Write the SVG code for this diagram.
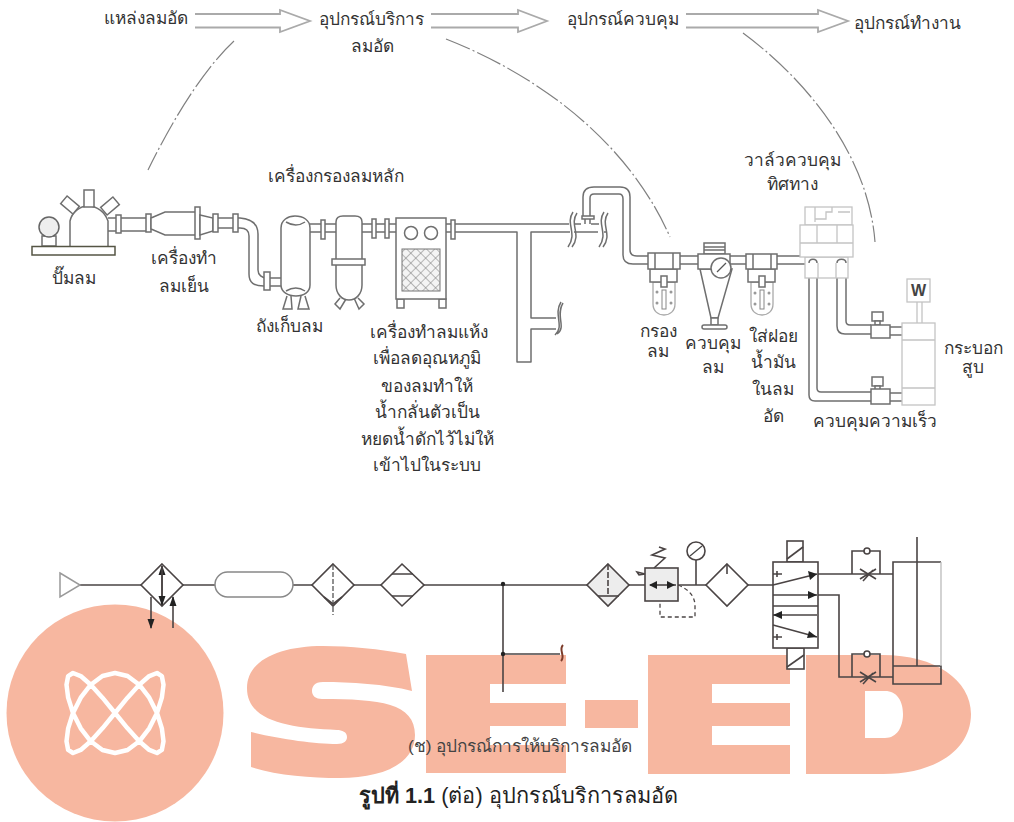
<svg xmlns="http://www.w3.org/2000/svg" width="1014" height="822" viewBox="0 0 1014 822">
<style>
text{font-family:"Liberation Sans","Noto Sans","DejaVu Sans",sans-serif;font-size:17.300px;fill:#333}
.m{text-anchor:middle}
.p{fill:none;stroke:#6f6f6f;stroke-width:1.500;stroke-linejoin:round}
.f{fill:#fff;stroke:#6f6f6f;stroke-width:1.500}
.v{fill:none;stroke:#c4c4c4;stroke-width:1.300}
.vf{fill:#fff;stroke:#c4c4c4;stroke-width:1.300}
.b{fill:none;stroke:#aaa;stroke-width:1.800}
.d{fill:none;stroke:#808080;stroke-width:1.200;stroke-dasharray:26 3 2 3}
.s{fill:none;stroke:#4a4444;stroke-width:1.600}
.sf{fill:#fff;stroke:#4a4444;stroke-width:1.600}
.g{fill:#ededed;stroke:#4a4444;stroke-width:1.600}
.w{fill:#f7b7a0}
</style>
<defs>
<marker id="ah" viewBox="0 0 10 8" refX="9" refY="4" markerWidth="10" markerHeight="8" markerUnits="userSpaceOnUse" orient="auto-start-reverse"><path d="M0 0.500L10 4L0 7.500Z" fill="#222"/></marker>
<pattern id="hatch" width="7" height="7" patternUnits="userSpaceOnUse" patternTransform="rotate(45)"><rect width="7" height="7" fill="#f4f4f4"/><path d="M0 0H7M0 0V7" stroke="#777" stroke-width="1"/></pattern>
</defs>
<g id="watermark">
<circle class="w" cx="115" cy="713" r="108.500"/>
<polygon fill="none" stroke="#fff" stroke-linejoin="round" transform="translate(115 713) scale(48.500 -40)" points="0,1 .259,.924 .5,.707 .707,.383 .866,0 .966,-.383 1,-.707 .966,-.924 .866,-1 .707,-.924 .5,-.707 .259,-.383 0,0 -.259,.383 -.5,.707 -.707,.924 -.866,1 -.966,.924 -1,.707 -.966,.383 -.866,0 -.707,-.383 -.5,-.707 -.259,-.924 0,-1 .259,-.924 .5,-.707 .707,-.383 .866,0 .966,.383 1,.707 .966,.924 .866,1 .707,.924 .5,.707 .259,.383 0,0 -.259,-.383 -.5,-.707 -.707,-.924 -.866,-1 -.966,-.924 -1,-.707 -.966,-.383 -.866,0 -.707,.383 -.5,.707 -.259,.924" style="stroke-width:4.500px;vector-effect:non-scaling-stroke"/>
<path class="w" d="M406 654L412 691C385 684 350 682 323 682C314 682 312 687 312 691C312 696 316 699 322 699C380 699 415 703 415 735C415 765 380 778 340 778C310 778 275 775 251 767L251 732C280 739 315 744 337 744C344 744 347 741 347 737C347 732 342 730 337 730C290 728 247 722 247 688C247 660 280 646 323 646C350 646 380 649 406 654Z"/>
<path class="w" d="M426 655H566V684H490V703H566V726H490V745H566V773H426Z"/>
<rect class="w" x="585" y="700" width="53" height="28"/>
<path class="w" d="M648 655H790V684H712V703H790V726H712V745H790V774H648Z"/>
<path class="w" fill-rule="evenodd" d="M806 655H883C935 655 971 680 971 714C971 750 935 774 883 774H806ZM865 691V738H885C897 738 903 727 903 714C903 701 897 691 885 691Z"/>
</g>
<g id="connectors">
<g id="flow-arrows">
<path class="b" d="M195 14H280V10L310 21L280 32V27.500H195"/>
<path class="b" d="M431 14H518V10L547 21L518 32V27.500H431"/>
<path class="b" d="M686 14H818V10L848 21L818 32V27.500H686"/>
</g>
<path class="d" d="M234 41C205 68 175 115 148 170"/>
<path class="d" d="M446 39C530 72 625 135 670 237"/>
<path class="d" d="M743 33C800 75 868 150 875 242"/>
<g id="pipes">
<path class="p" d="M108 218H146M108 231H146"/>
<path class="p" d="M217 218H240C252 219 258 224 258 234V270C258 275 262 278 267 278M217 228H240C247 228 249 231 249 236V274C249 283 254 286 264 286"/>
<path class="p" d="M270 278H281M270 286H281"/>
<path class="p" d="M310 224H336M310 232H336M362 224H396M362 232H396"/>
<path class="p" d="M446 224H569M446 232H517V362H531V329H556M556 318H531V232H570M574 224H581M574 232H598M591 224H599M604 232H606"/>
<path class="p" d="M583 216V197C583 190 587 187 594 187H620C627 187 630 191 630 197V250C630 254 632 256 637 256H648M590 216V198C590 195 591 194 594 194H619C622 194 623 196 623 199V255C623 261 627 264 633 264H648"/>
<path class="p" d="M585 219V224M590 219V224"/>
<path class="p" d="M730 256H746M730 264H746M680 256H698M680 264H698M777 256H805M777 264H805"/>
<path class="p" d="M809 263V395C809 399 811 401 815 401H871M817 263V388C817 391 818 392 821 392H871"/>
<path class="p" d="M837 263V326C837 331 840 334 845 334H871M846 263V321C846 324 847 325 850 325H871"/>
<path class="p" d="M890 327H902M890 335H902M890 393H902M890 401H902"/>
<path class="p" d="M573 212C565 224 578 233 568 247M577 213C569 225 582 234 572 247M604 212C596 224 609 233 599 247M608 213C600 225 613 234 603 247M561 302C553 315 565 326 555 335M563 303C555 316 567 327 557 334"/>
<path class="f" d="M582 216H594V219H582Z"/>
</g>
<g id="schematic-lines">
<path class="s" d="M80 585H141M183 585H215M293 585H312M354 585H381M424 585H587M629 585H645M678 585H706M748 585H773"/>
<path class="s" d="M503 584V692M503 654H560"/>
<path d="M563 645C558 650 566 656 561 661" fill="none" stroke="#7d3c2a" stroke-width="2"/>
<path class="s" d="M818 574H893M818 595H839V677H893"/>
<circle cx="503" cy="584" r="2.200" fill="#222"/><circle cx="503" cy="654" r="2.200" fill="#222"/>
<path class="s" d="M151 597V628" marker-end="url(#ah)"/>
<path class="s" d="M173 628V597" marker-end="url(#ah)"/>
<path d="M696 585V560" class="s"/>
<path d="M678 585C690 590 695 597 695 606V617H660V601" fill="none" stroke="#4a4444" stroke-width="1.300" stroke-dasharray="4 3"/>
</g>
</g>
<g id="pump">
<path class="f" d="M70 246V221C72 212 80 206 88 206C97 206 105 212 108 221V246"/>
<rect class="f" x="84" y="190" width="10" height="17"/>
<rect class="f" x="-5" y="-8" width="10" height="16" transform="translate(70 205) rotate(-50)"/>
<rect class="f" x="-5" y="-8" width="10" height="16" transform="translate(110 206) rotate(50)"/>
<rect class="f" x="42" y="236" width="14" height="10"/>
<circle cx="49" cy="227" r="10" fill="#eee" stroke="#666" stroke-width="1.500"/>
<rect x="32" y="246.500" width="83" height="8.500" fill="#fff" stroke="#554" stroke-width="1.500"/>
<rect class="f" x="116" y="215" width="5" height="18"/>
<text class="m" x="74" y="284">ปั๊มลม</text>
</g>
<g id="cooler">
<rect class="f" x="146" y="214" width="5" height="18"/>
<path class="f" d="M151 218L165 212H196V235H165L151 229Z"/>
<rect class="f" x="195" y="207" width="5" height="32"/>
<path class="f" d="M200 215L213 218V231L200 235Z"/>
<rect class="f" x="213" y="214" width="5" height="18"/>
<rect class="f" x="233" y="214" width="5" height="18"/>
<text class="m" x="184" y="264">เครื่องทำ</text>
<text class="m" x="184" y="292">ลมเย็น</text>
</g>
<g id="tank">
<rect class="f" x="264" y="272" width="6" height="18"/>
<path class="f" d="M287 296L283 309H292L291 296M301 296L298 309H309L305 296"/>
<path class="f" d="M281 228C281 220 288 216 295 216C303 216 310 220 310 228V285C310 292 304 296 296 296C288 296 281 292 281 285Z"/>
<path class="p" d="M286 222Q296 228 305 222M286 291Q296 285 305 291"/>
<text x="256" y="332">ถังเก็บลม</text>
</g>
<g id="main-filter">
<rect class="f" x="321" y="220" width="4" height="19"/>
<path class="f" d="M340 298L335 304L340 309L346 299M354 298L359 309L364 304L358 298"/>
<path class="f" d="M336 222C336 218 339 216 343 216H355C359 216 362 218 362 222V285C362 294 356 300 349 300C342 300 336 294 336 285Z"/>
<rect class="f" x="332" y="259" width="33" height="6"/>
<rect class="f" x="372" y="219" width="4" height="19"/>
<rect class="f" x="385" y="219" width="4" height="19"/>
</g>
<g id="dryer">
<rect class="f" x="397" y="299" width="7" height="9"/>
<rect class="f" x="439" y="299" width="7" height="9"/>
<rect class="f" x="396" y="218" width="50" height="81"/>
<circle class="f" cx="411" cy="233" r="6.500"/><circle class="f" cx="431" cy="233" r="6.500"/>
<rect x="402" y="249" width="38" height="42" fill="url(#hatch)" stroke="#777"/>
<rect class="f" x="451" y="220" width="4" height="19"/>
<text class="m" x="429" y="338">เครื่องทำลมแห้ง</text>
<text class="m" x="427" y="364">เพื่อลดอุณหภูมิ</text>
<text class="m" x="427" y="392">ของลมทำให้</text>
<text class="m" x="427" y="418">น้ำกลั่นตัวเป็น</text>
<text class="m" x="427" y="445">หยดน้ำดักไว้ไม่ให้</text>
<text class="m" x="427" y="471">เข้าไปในระบบ</text>
</g>
<g id="air-filter">
<path d="M653 282H675V304C675 311 670 315 664 315C658 315 653 311 653 304Z" fill="#fff" stroke="#aaa" stroke-width="1.300"/>
<rect class="f" x="650" y="269" width="27" height="13"/>
<rect class="f" x="648" y="253" width="32" height="16"/>
<path class="p" d="M655 253V269M673 253V269"/>
<rect class="f" x="661" y="276" width="6" height="11"/>
<rect x="662" y="290" width="4" height="19" fill="#fff" stroke="#888"/>
<path d="M657 292h.01M671 292h.01M657 303h.01M671 303h.01" stroke="#999" stroke-width="3" stroke-linecap="round"/>
<text class="m" x="658" y="337">กรอง</text>
<text class="m" x="658" y="357">ลม</text>
</g>
<g id="regulator">
<rect class="f" x="704" y="243" width="21" height="11"/>
<path class="p" d="M704 247H725M704 250H725"/>
<path class="f" d="M700 269L711 318H718L732 269Z"/>
<rect class="f" x="698" y="254" width="32" height="15"/>
<circle class="f" cx="721" cy="268" r="10"/>
<path d="M717 272L726 263" stroke="#555" stroke-width="1.200"/>
<rect class="f" x="711" y="318" width="7" height="7"/>
<rect class="f" x="702" y="325" width="25" height="4" rx="2"/>
<text class="m" x="713" y="349">ควบคุม</text>
<text class="m" x="713" y="373">ลม</text>
</g>
<g id="lubricator">
<path d="M751 282H773V304C773 311 768 315 762 315C756 315 751 311 751 304Z" fill="#fff" stroke="#aaa" stroke-width="1.300"/>
<rect class="f" x="748" y="269" width="27" height="13"/>
<rect class="f" x="746" y="254" width="31" height="15"/>
<path class="p" d="M753 254V269M771 254V269"/>
<rect class="f" x="759" y="276" width="6" height="11"/>
<rect x="760" y="290" width="4" height="19" fill="#fff" stroke="#888"/>
<path d="M755 293h.01M769 293h.01M755 304h.01M769 304h.01" stroke="#999" stroke-width="3" stroke-linecap="round"/>
<text class="m" x="773" y="342">ใส่ฝอย</text>
<text class="m" x="773" y="368">น้ำมัน</text>
<text class="m" x="773" y="395">ในลม</text>
<text class="m" x="773" y="422">อัด</text>
</g>
<g id="valve">
<rect class="vf" x="805" y="257" width="43" height="21"/>
<path class="v" d="M818 278V263M836 278V263"/>
<rect class="vf" x="805" y="207" width="47" height="18"/>
<path class="v" d="M815 207V222M815 219H826V212H832V207M838 212H850"/>
<rect class="vf" x="800" y="225" width="53" height="32"/>
<path class="v" d="M817 225V243M837 225V243M800 243H853"/>
<path class="p" d="M809 263C809 258 817 258 817 263M837 263C837 258 846 258 846 263"/>
<text class="m" x="792" y="166">วาล์วควบคุม</text>
<text class="m" x="792" y="190">ทิศทาง</text>
</g>
<g id="speed-control">
<rect class="f" x="872" y="312" width="11" height="9"/><rect class="f" x="875" y="321" width="5" height="4"/>
<rect class="f" x="871" y="325" width="19" height="13"/>
<rect class="f" x="872" y="377" width="11" height="9"/><rect class="f" x="875" y="386" width="5" height="4"/>
<rect class="f" x="871" y="389" width="19" height="15"/>
<text class="m" x="875" y="427">ควบคุมความเร็ว</text>
</g>
<g id="cylinder">
<rect class="vf" x="902" y="323" width="33" height="82"/>
<path class="v" d="M902 340H935M902 388H935"/>
<path class="v" d="M917 302V323M922 302V323"/>
<rect class="vf" x="907" y="279" width="23" height="23"/>
<text class="m" x="918.500" y="296" style="font-weight:700;font-size:16px;fill:#444">W</text>
<text class="m" x="973" y="354">กระบอก</text>
<text class="m" x="973" y="373">สูบ</text>
</g>
<g id="schematic-symbols">
<path id="source" d="M60 573L80 585L60 597Z" fill="#fff" stroke="#999" stroke-width="1.500"/>
<g id="dryer-symbol"><path class="sf" d="M162 564L183 585L162 606L141 585Z"/><path class="s" d="M162 605V566" marker-end="url(#ah)"/><path class="s" d="M162 566V605" marker-end="url(#ah)"/></g>
<rect id="receiver" x="215" y="572" width="78" height="25" rx="12.500" fill="#fff" stroke="#888" stroke-width="1.500"/>
<g id="filter-symbol"><path class="sf" d="M333 564L354 585L333 606L312 585Z"/><path d="M333 565V615" fill="none" stroke="#555" stroke-width="1.300" stroke-dasharray="5 2"/><path class="s" d="M324 597L333 604L342 597"/></g>
<g id="cooler-symbol"><path class="sf" d="M402 564L424 585L402 606L381 585Z"/><path class="s" d="M392 574H413M392 596H413"/></g>
<g id="filter-2"><path class="g" d="M608 564L629 585L608 606L587 585Z"/><path class="s" d="M608 564V596" stroke-dasharray="6 2"/><path class="s" d="M598 596H619"/></g>
<g id="regulator-symbol"><rect class="g" x="645" y="568" width="33" height="33"/><path class="s" d="M650 585H676"/><path d="M657 581L649 585L657 589ZM667 581L675 585L667 589Z" fill="#222"/><path class="s" d="M645 574L637 572L639 575L645 574M654 568L665 558L652 555L665 549L659 547"/></g>
<g id="gauge"><circle class="sf" cx="696" cy="551" r="9"/><path d="M690 556L702 546" stroke="#444" stroke-width="1.200"/></g>
<g id="lubricator-symbol"><path class="sf" d="M727 564L748 585L727 606L706 585Z"/><path class="s" d="M727 564V574"/></g>
<g id="valve-symbol">
<rect class="sf" x="787" y="541" width="16" height="21"/><path class="s" d="M787 559L803 547"/>
<rect class="sf" x="787" y="648" width="17" height="21"/><path class="s" d="M787 667L804 655"/>
<rect class="sf" x="773" y="562" width="45" height="86"/>
<path class="s" d="M773 606H818M773 585L817 574M773 595H817M773 615H817M773 625L817 637M777 571V577M773 574H782M777 634V640M773 637H782"/>
<path d="M808 571L817 574L810 580ZM808 591L817 595L808 599ZM782 611L773 615L782 619ZM809 631L817 637L807 638Z" fill="#222"/>
</g>
<g id="flow-control-1"><path class="s" d="M852 574V551H880V574"/><circle class="sf" cx="867" cy="551" r="3"/><path class="s" d="M860 569L876 579M860 579L876 569M863 581L873 570" stroke-width="1.100"/></g>
<g id="flow-control-2"><path class="s" d="M852 677V654H880V677"/><circle class="sf" cx="867" cy="654" r="3"/><path class="s" d="M860 672L876 682M860 682L876 672M863 684L873 673" stroke-width="1.100"/></g>
<g id="cylinder-symbol">
<path class="s" d="M941 562H893V684H941V666H893"/>
<path d="M941 562V666" stroke="#bbb" stroke-width="1.300"/>
<path class="s" d="M917 537V666"/>
</g>
</g>
<text id="t1" x="104" y="24">แหล่งลมอัด</text>
<text id="t2" x="319" y="25">อุปกรณ์บริการ</text>
<text class="m" x="372" y="52">ลมอัด</text>
<text id="t3" x="567" y="25">อุปกรณ์ควบคุม</text>
<text id="t4" x="854" y="29">อุปกรณ์ทำงาน</text>
<text id="t5" x="268" y="182">เครื่องกรองลมหลัก</text>
<text id="cap1" x="408" y="752" style="fill:#444">(ช) อุปกรณ์การให้บริการลมอัด</text>
<text id="cap2" x="359" y="803" style="font-size:21.700px;fill:#222"><tspan style="font-weight:700">รูปที่ 1.1</tspan> (ต่อ) อุปกรณ์บริการลมอัด</text>
</svg>
